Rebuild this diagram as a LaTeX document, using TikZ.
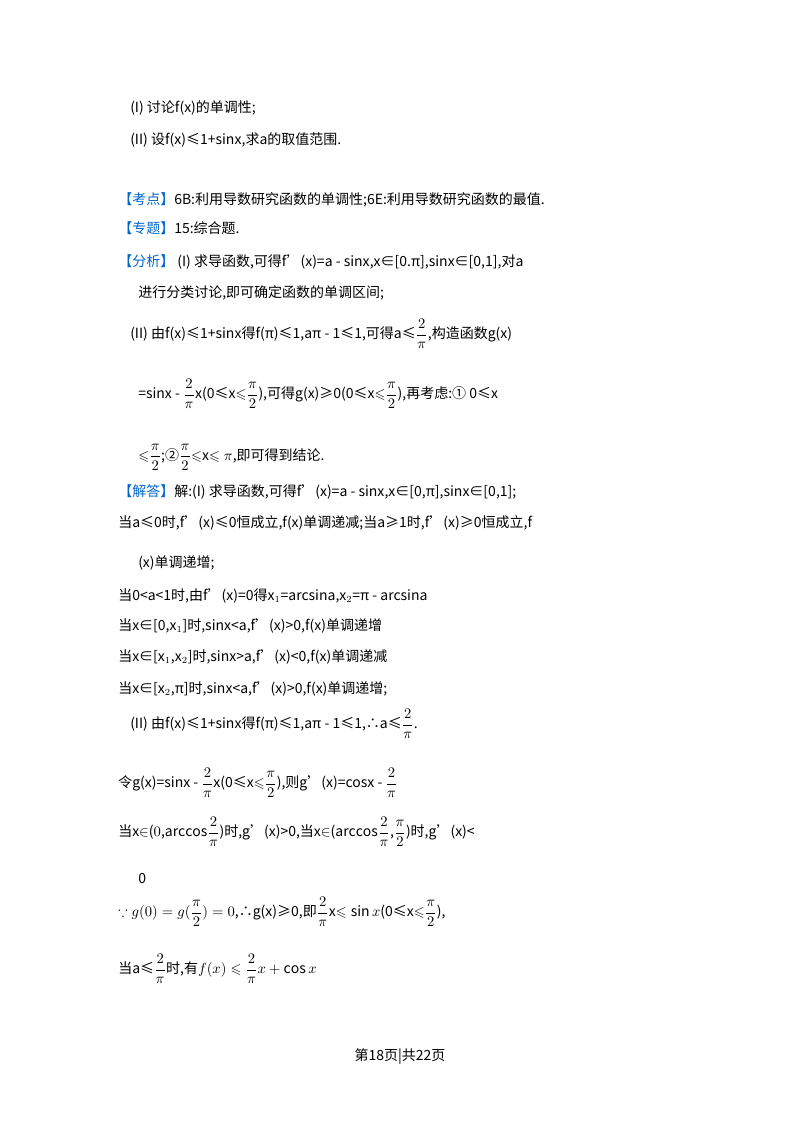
\documentclass[tikz,border=0pt]{standalone}
\usepackage{fontspec}
\setmainfont{Noto Sans CJK SC}
\usepackage{amsmath,amssymb}
\definecolor{kblue}{RGB}{0,102,204}
\newcommand{\kw}[1]{\textcolor{kblue}{#1}}
\newcommand{\fr}[2]{$\dfrac{#1}{#2}$}
\begin{document}
\begin{tikzpicture}[x=0.75pt,y=-0.75pt,
  ln/.style={anchor=west,inner sep=0pt,font=\fontsize{10.5}{12}\selectfont}]
\useasboundingbox (0,0) rectangle (800,1133);
\node[ln] (l1) at (130,108) {(I) 讨论f(x)的单调性;};
\node[ln] (l2) at (130,140) {(II) 设f(x)≤1+sinx,求a的取值范围.};
\node[ln] (l3) at (118,200) {\kw{【考点】}6B:利用导数研究函数的单调性;6E:利用导数研究函数的最值.};
\node[ln] (l4) at (118,228) {\kw{【专题】}15:综合题.};
\node[ln] (l5) at (118,262) {\kw{【分析】} (I) 求导函数,可得f'(x)=a - sinx,x∈[0.π],sinx∈[0,1],对a};
\node[ln] (l6) at (138,293) {进行分类讨论,即可确定函数的单调区间;};
\node[ln] (l7) at (130,334) {(II) 由f(x)≤1+sinx得f(π)≤1,aπ - 1≤1,可得a≤\fr{2}{\pi},构造函数g(x)};
\node[ln] (l8) at (138,394) {=sinx - \fr{2}{\pi}x(0≤x$\leqslant$\fr{\pi}{2}),可得g(x)≥0(0≤x$\leqslant$\fr{\pi}{2}),再考虑:① 0≤x};
\node[ln] (l9) at (138,457) {$\leqslant$\fr{\pi}{2};②\fr{\pi}{2}$\leqslant$x$\leqslant\pi$,即可得到结论.};
\node[ln] (l10) at (118,492) {\kw{【解答】}解:(I) 求导函数,可得f'(x)=a - sinx,x∈[0,π],sinx∈[0,1];};
\node[ln] (l11) at (118,523) {当a≤0时,f'(x)≤0恒成立,f(x)单调递减;当a≥1时,f'(x)≥0恒成立,f};
\node[ln] (l12) at (138,563) {(x)单调递增;};
\node[ln] (l13) at (118,596) {当0<a<1时,由f'(x)=0得x$_1$=arcsina,x$_2$=π - arcsina};
\node[ln] (l14) at (118,626) {当x∈[0,x$_1$]时,sinx<a,f'(x)>0,f(x)单调递增};
\node[ln] (l15) at (118,657) {当x∈[x$_1$,x$_2$]时,sinx>a,f'(x)<0,f(x)单调递减};
\node[ln] (l16) at (118,689) {当x∈[x$_2$,π]时,sinx<a,f'(x)>0,f(x)单调递增;};
\node[ln] (l17) at (130,724) {(II) 由f(x)≤1+sinx得f(π)≤1,aπ - 1≤1,∴a≤\fr{2}{\pi}.};
\node[ln] (l18) at (118,783) {令g(x)=sinx - \fr{2}{\pi}x(0≤x$\leqslant$\fr{\pi}{2}),则g'(x)=cosx - \fr{2}{\pi}};
\node[ln] (l19) at (118,832) {当x$\in$($0$,$\arccos$\fr{2}{\pi})时,g'(x)>0,当x$\in$($\arccos$\fr{2}{\pi},\fr{\pi}{2})时,g'(x)<};
\node[ln] (l20) at (138,878) {0};
\node[ln] (l21) at (118,912) {$\because g(0)=g(\dfrac{\pi}{2})=0$,∴g(x)≥0,即\fr{2}{\pi}x$\leqslant\sin x$(0≤x$\leqslant$\fr{\pi}{2}),};
\node[ln] (l22) at (118,969) {当a≤\fr{2}{\pi}时,有$f(x)\leqslant\dfrac{2}{\pi}x+\cos x$};
\node[ln,anchor=center] (l23) at (400,1057) {第18页|共22页};
\end{tikzpicture}
\end{document}
